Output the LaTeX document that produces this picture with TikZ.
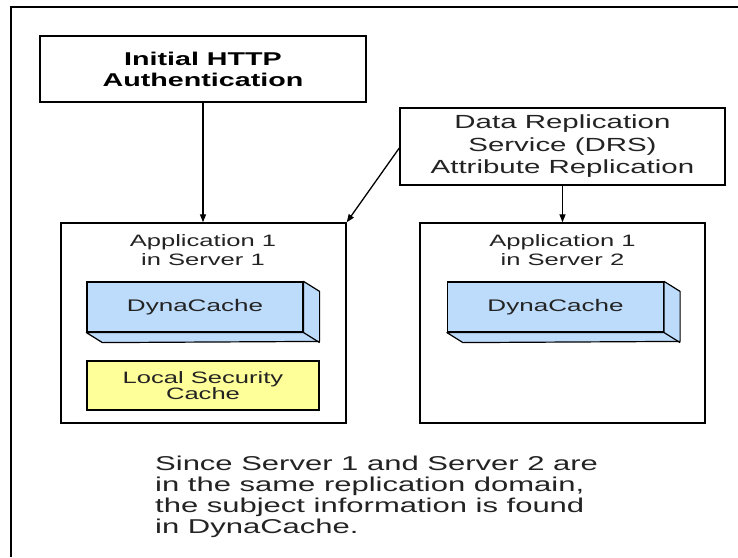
\documentclass[tikz,border=0pt]{standalone}
\usepackage{fontspec}
\setmainfont{Liberation Sans}
\newfontfamily\ws[FakeStretch=1.55]{Liberation Sans}
\usetikzlibrary{arrows.meta,calc}
\definecolor{cachefill}{RGB}{189,219,250}
\definecolor{secfill}{RGB}{255,255,153}
\definecolor{txt}{RGB}{35,35,35}
\begin{document}
\begin{tikzpicture}[x=1pt,y=-1pt,
  box/.style={draw=black,line width=1.4pt,rectangle,inner sep=0pt,align=center},
  conn/.style={line width=1.3pt,-{Triangle[length=8pt,width=6pt]}},
  face/.style={draw=black,line width=1.2pt,fill=cachefill,line join=round},
  cachebox/.style={box,line width=1.2pt,fill=cachefill,minimum width=216pt,minimum height=50pt,
    text=txt,font=\ws\fontsize{16.8}{19}\selectfont},
  title/.style={align=center,inner sep=0pt,text=txt,font=\ws\fontsize{16.5}{19}\selectfont}]
\useasboundingbox (0,0) rectangle (738,557);
\fill[white] (0,0) rectangle (738,557);
\draw[line width=1.2pt] (11,557) -- (11,7) -- (738,7);

% top boxes
\node[box,minimum width=326pt,minimum height=66pt,
      font=\ws\bfseries\fontsize{18.5}{21}\selectfont] (init) at (203,69)
      {Initial HTTP\\Authentication};
\node[box,minimum width=325pt,minimum height=77pt,text=txt,
      font=\ws\fontsize{19}{22.5}\selectfont] (drs) at (562.5,146.5)
      {Data Replication\\Service (DRS)\\Attribute Replication};

% application boxes
\node[box,minimum width=285pt,minimum height=200pt] (app1) at (203.5,323) {};
\node[box,minimum width=285pt,minimum height=200pt] (app2) at (562.5,323) {};
\node[title] (t1) at (203,250.5) {Application 1\\in Server 1};
\node[title] (t2) at (562.5,250.5) {Application 1\\in Server 2};

% DynaCache 3D boxes
\node[cachebox] (dc1) at (195,307) {DynaCache};
\draw[face] (dc1.north east) -- ++(16,10) -- ++(0,50) -- ($(dc1.south west)+(16,10)$)
  -- (dc1.south west) -- (dc1.south east) -- cycle;
\draw[line width=1.2pt] (dc1.south east) -- ++(16,10);
\node[cachebox] (dc2) at (555.5,307) {DynaCache};
\draw[face] (dc2.north east) -- ++(16,10) -- ++(0,50) -- ($(dc2.south west)+(16,10)$)
  -- (dc2.south west) -- (dc2.south east) -- cycle;
\draw[line width=1.2pt] (dc2.south east) -- ++(16,10);

% local security cache
\node[box,line width=1.2pt,fill=secfill,minimum width=232pt,minimum height=49pt,text=txt,
      font=\ws\fontsize{16.5}{16.5}\selectfont] (lsc) at (203,385.5)
      {Local Security\\Cache};

% note
\node[anchor=north west,align=left,inner sep=0pt,text=txt,
      font=\ws\fontsize{20}{21}\selectfont] (note) at (155,455.5)
      {Since Server 1 and Server 2 are\\in the same replication domain,\\the subject information is found\\in DynaCache.};

% connectors
\draw[conn] (init.south) -- (init.south |- app1.north);
\draw[conn] (drs.south) -- (drs.south |- app2.north);
\draw[conn] ($(drs.west)+(0,1.5)$) -- (app1.north east);
\end{tikzpicture}
\end{document}
